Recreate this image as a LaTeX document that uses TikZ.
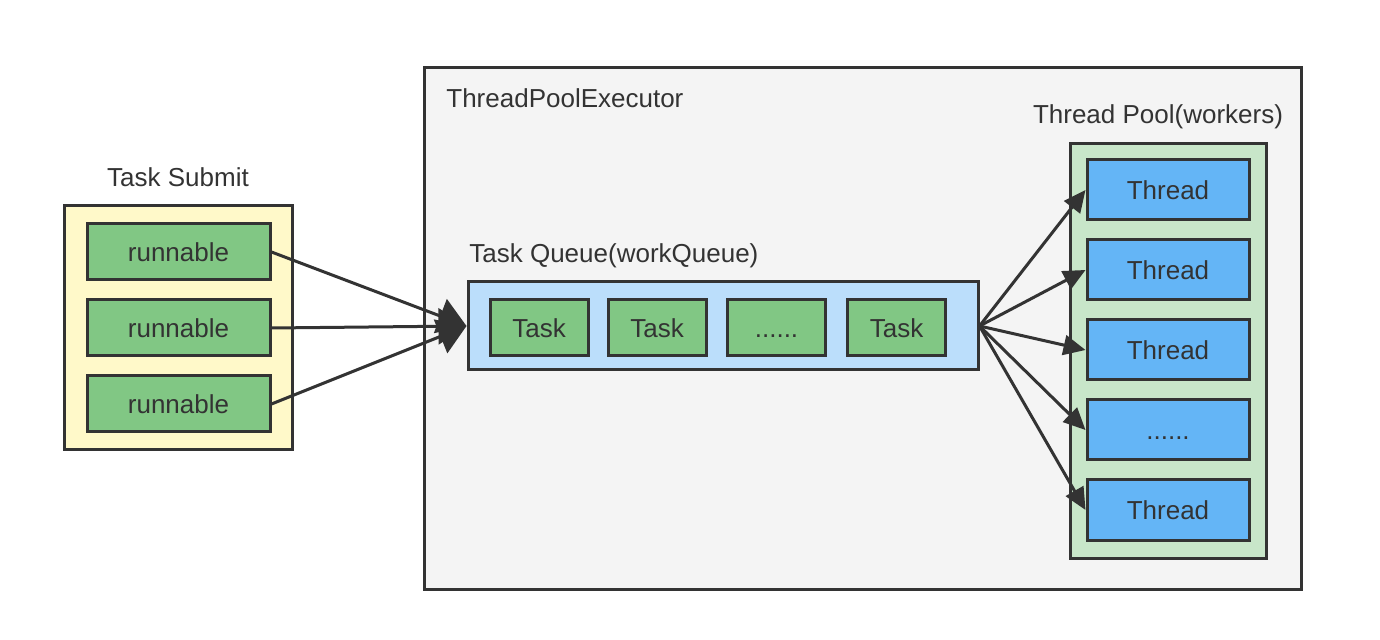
\documentclass[tikz,border=0pt]{standalone}
\usepackage{fontspec}
\setmainfont{Liberation Sans}
\usetikzlibrary{arrows.meta}
\definecolor{edge}{HTML}{333333}
\definecolor{execbg}{HTML}{F4F4F4}
\definecolor{submitbg}{HTML}{FFF9C9}
\definecolor{queuebg}{HTML}{BBDEFB}
\definecolor{poolbg}{HTML}{C8E6C9}
\definecolor{taskfill}{HTML}{81C784}
\definecolor{threadfill}{HTML}{64B5F6}
\tikzset{
  box/.style={draw=edge,line width=1.5pt,inner sep=0pt,text=edge,text height=9.4pt,text depth=0pt},
  taskbox/.style={box,fill=taskfill,minimum width=49pt,minimum height=28pt},
  runbox/.style={box,fill=taskfill,minimum width=91.5pt,minimum height=28pt},
  threadbox/.style={box,fill=threadfill,minimum width=81pt,minimum height=30pt},
  title/.style={text=edge,inner sep=0pt,text height=9.4pt,text depth=0pt},
  flow/.style={draw=edge,line width=1.5pt},
}
\begin{document}
\begin{tikzpicture}[x=0.5pt,y=-0.5pt,font=\fontsize{13pt}{15pt}\selectfont]
\useasboundingbox (0,0) rectangle (1380,640);
\node[box,fill=execbg,minimum width=438.5pt,minimum height=260.5pt](executor) at (862.5,328.5){};
\node[title,anchor=west](executorlabel) at (446,98){ThreadPoolExecutor};
\node[box,fill=submitbg,minimum width=114pt,minimum height=122pt](submit) at (178,328){};
\node[title](submitlabel) at (178,177){Task Submit};
\node[runbox](r1) at (178.5,252){runnable};
\node[runbox](r2) at (178.5,328){runnable};
\node[runbox](r3) at (178.5,404){runnable};
\node[box,fill=queuebg,minimum width=255pt,minimum height=44pt](queue) at (723,326){};
\node[title,anchor=west](queuelabel) at (469,253){Task Queue(workQueue)};
\node[taskbox](t1) at (539,328){Task};
\node[taskbox](t2) at (657,328){Task};
\node[taskbox](t3) at (776.5,328){......};
\node[taskbox](t4) at (896.5,328){Task};
\node[box,fill=poolbg,minimum width=98pt,minimum height=207pt](pool) at (1168,351){};
\node[title](poollabel) at (1158,114){Thread Pool(workers)};
\node[threadbox](w1) at (1168,190){Thread};
\node[threadbox](w2) at (1168,270){Thread};
\node[threadbox](w3) at (1168,350){Thread};
\node[threadbox](w4) at (1168,430){......};
\node[threadbox](w5) at (1168,510){Thread};
\foreach \r in {r1,r2,r3}
  \draw[flow,-{Triangle[length=14pt,width=18pt]}] (\r.east) -- (queue.west);
\foreach \w in {w1,w2,w3,w4,w5}
  \draw[flow,-{Triangle[length=11pt,width=10pt]}] (queue.east) -- (\w.west);
\end{tikzpicture}
\end{document}
